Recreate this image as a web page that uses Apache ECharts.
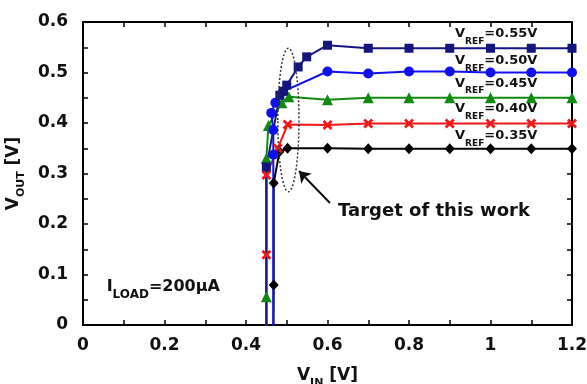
<!DOCTYPE html>
<html>
<head>
<meta charset="utf-8">
<script src="https://cdn.jsdelivr.net/npm/echarts@6/dist/echarts.min.js"></script>
<style>
html, body { margin: 0; padding: 0; background: #fff; }
#main { width: 587px; height: 384px; }
</style>
</head>
<body>
<div id="main"></div>
<script>
// V_IN [V] vs V_OUT [V]
var vref055 = [[0.45,-0.05],[0.45,0.313],[0.483,0.455],[0.492,0.463],[0.50,0.475],[0.528,0.511],[0.549,0.531],[0.6,0.554],[0.7,0.548],[0.8,0.548],[0.9,0.548],[1.0,0.548],[1.1,0.548],[1.2,0.548]];
var vref050 = [[0.467,-0.05],[0.467,0.337],[0.467,0.386],[0.462,0.42],[0.472,0.44],[0.49,0.462],[0.6,0.502],[0.7,0.498],[0.8,0.502],[0.9,0.502],[1.0,0.5],[1.1,0.5],[1.2,0.5]];
var vref045 = [[0.45,-0.05],[0.45,0.056],[0.45,0.33],[0.455,0.395],[0.488,0.44],[0.505,0.452],[0.6,0.446],[0.7,0.45],[0.8,0.45],[0.9,0.45],[1.0,0.45],[1.1,0.45],[1.2,0.45]];
var vref040 = [[0.45,-0.05],[0.45,0.139],[0.45,0.297],[0.478,0.35],[0.502,0.397],[0.6,0.396],[0.7,0.399],[0.8,0.399],[0.9,0.399],[1.0,0.399],[1.1,0.399],[1.2,0.399]];
var vref035 = [[0.467,-0.05],[0.468,0.079],[0.468,0.281],[0.482,0.343],[0.502,0.35],[0.6,0.35],[0.7,0.349],[0.8,0.349],[0.9,0.349],[1.0,0.349],[1.1,0.349],[1.2,0.349]];

var xLabels = ['0', '0.2', '0.4', '0.6', '0.8', '1', '1.2'];
var yLabels = ['0', '0.1', '0.2', '0.3', '0.4', '0.5', '0.6'];

var refNames = ['0.55V', '0.50V', '0.45V', '0.40V', '0.35V'];
var refLabelPos = [[0.913,0.571],[0.913,0.518],[0.913,0.473],[0.913,0.423],[0.913,0.369]];

var crossPath = 'path://M0,2L2,0L5,3L8,0L10,2L7,5L10,8L8,10L5,7L2,10L0,8L3,5Z';
var FONT = 'DejaVu Sans';

var chart = echarts.init(document.getElementById('main'));

var tickStyle = { color: '#000', width: 1.5 };
function xAx(pos, labels) {
    return {
        type: 'value', position: pos, min: 0, max: 1.2, interval: 0.2,
        axisLine: { onZero: false, lineStyle: { color: '#000', width: 2 } },
        axisTick: { inside: true, length: 5, lineStyle: tickStyle },
        minorTick: { show: true, splitNumber: 2, length: 5, lineStyle: tickStyle },
        splitLine: { show: false },
        axisLabel: {
            show: labels, margin: 12, color: '#111', fontFamily: FONT, fontWeight: 'bold', fontSize: 17,
            formatter: function (v) { return xLabels[Math.round(v / 0.2)]; }
        }
    };
}
function yAx(pos, labels) {
    return {
        type: 'value', position: pos, min: 0, max: 0.6, interval: 0.1,
        axisLine: { onZero: false, lineStyle: { color: '#000', width: 2 } },
        axisTick: { inside: true, length: 5, lineStyle: tickStyle },
        minorTick: { show: true, splitNumber: 2, length: 5, lineStyle: tickStyle },
        splitLine: { show: false },
        axisLabel: {
            show: labels, margin: 15, color: '#111', fontFamily: FONT, fontWeight: 'bold', fontSize: 17,
            formatter: function (v) { return yLabels[Math.round(v / 0.1)]; }
        }
    };
}

var xBottom = xAx('bottom', true);
xBottom.name = '{m|V}{s|IN}{m| [V]}';
xBottom.nameLocation = 'middle';
xBottom.nameGap = 42;
xBottom.nameTextStyle = {
    rich: {
        m: { fontFamily: FONT, fontWeight: 'bold', fontSize: 17, color: '#111', lineHeight: 22, verticalAlign: 'top' },
        s: { fontFamily: FONT, fontWeight: 'bold', fontSize: 11, color: '#111', lineHeight: 11, verticalAlign: 'bottom' }
    }
};
var yLeft = yAx('left', true);
yLeft.name = '{m|V}{s|OUT}{m| [V]}';
yLeft.nameLocation = 'middle';
yLeft.nameGap = 56;
yLeft.nameRotate = 90;
yLeft.nameTextStyle = xBottom.nameTextStyle;

function line(data, color, symbol, size) {
    return {
        type: 'line', data: data, color: color, symbol: symbol, symbolSize: size,
        showSymbol: true, clip: true, animation: false,
        lineStyle: { color: color, width: 2 },
        itemStyle: { color: color, borderWidth: 0 }
    };
}

var series = [
    line(vref035, '#000000', 'diamond', [10, 11]),
    line(vref040, '#f01818', crossPath, 10),
    line(vref045, '#128a12', 'triangle', 11),
    line(vref050, '#1010ee', 'circle', 10),
    line(vref055, '#15157f', 'rect', 9)
];
// arrow pointing at the ellipse
series[0].markLine = {
    silent: true, animation: false,
    symbol: ['none', 'arrow'], symbolSize: 11,
    label: { show: false },
    lineStyle: { color: '#111', width: 2, type: 'solid' },
    data: [[{ coord: [0.606, 0.2416] }, { coord: [0.53, 0.305] }]]
};

chart.setOption({
    backgroundColor: '#fff',
    animation: false,
    grid: { left: 83, right: 15, top: 22, bottom: 59, containLabel: false, outerBoundsMode: 'none' },
    xAxis: [xBottom, xAx('top', false)],
    yAxis: [yLeft, yAx('right', false)],
    series: series
});

function px(p) { return chart.convertToPixel({ xAxisIndex: 0, yAxisIndex: 0 }, p); }

var richMain = function (size) {
    return {
        m: { fontFamily: FONT, fontWeight: 'bold', fontSize: size, fill: '#111', lineHeight: size + 6, verticalAlign: 'top' },
        s: { fontFamily: FONT, fontWeight: 'bold', fontSize: Math.round(size * 0.72), fill: '#111', lineHeight: Math.round(size * 0.72), verticalAlign: 'bottom' }
    };
};

var graphics = [];
refNames.forEach(function (n, i) {
    var p = px(refLabelPos[i]);
    graphics.push({
        type: 'text', x: p[0], y: p[1], z: 100,
        style: { text: '{m|V}{s|REF}{m|=' + n + '}', rich: richMain(13), verticalAlign: 'middle', align: 'left' }
    });
});
var pl = px([0.058, 0.07]);
graphics.push({
    type: 'text', x: pl[0], y: pl[1], z: 100,
    style: { text: '{m|I}{s|LOAD}{m|=200µA}', rich: richMain(16), verticalAlign: 'middle', align: 'left' }
});
var pt = px([0.626, 0.226]);
graphics.push({
    type: 'text', x: pt[0], y: pt[1], z: 100,
    style: { text: 'Target of this work', fill: '#111', font: 'bold 18px "DejaVu Sans"', verticalAlign: 'middle', align: 'left' }
});
// dotted ellipse round the transition region
var c = px([0.504, 0.406]);
var e = px([0.504 + 0.026, 0.406 + 0.142]);
graphics.push({
    type: 'ellipse', z: 100,
    shape: { cx: c[0], cy: c[1], rx: e[0] - c[0], ry: c[1] - e[1] },
    style: { fill: 'none', stroke: '#333', lineWidth: 1.5, lineDash: [2, 2] }
});

chart.setOption({ graphic: graphics });
</script>
</body>
</html>
